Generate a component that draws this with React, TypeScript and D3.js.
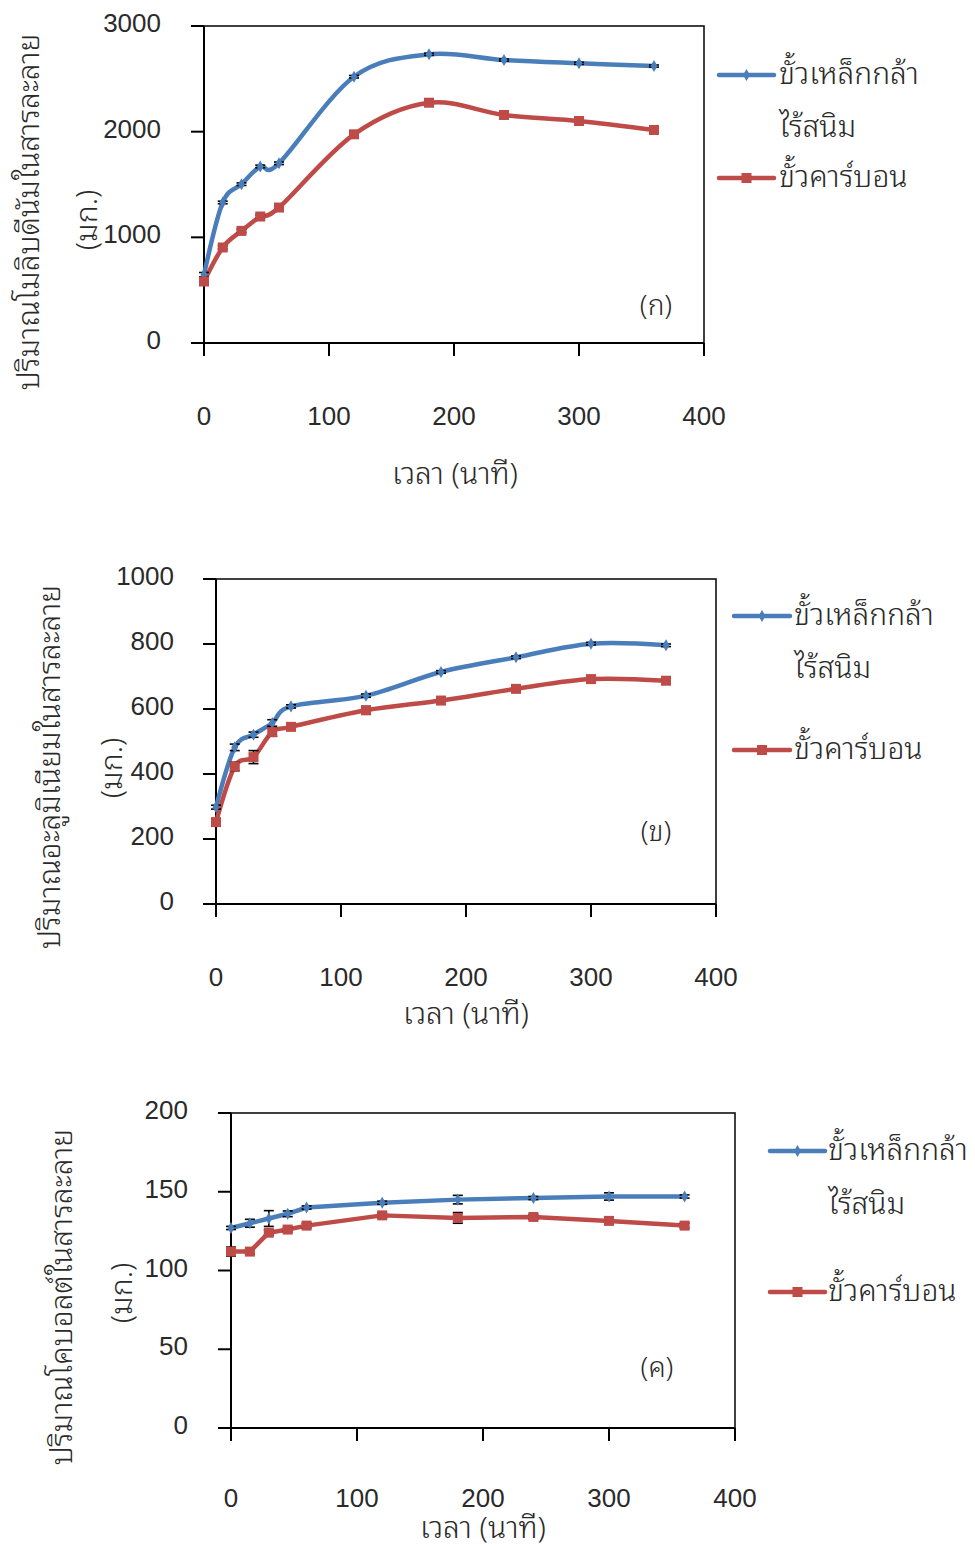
import React from "react";
import * as d3 from "d3";

// Sampling times (minutes)
const TIME_MIN = [0, 15, 30, 45, 60, 120, 180, 240, 300, 360];

// (ก) Molybdenum in solution (mg)
const MO_STEEL = [647, 1330, 1503, 1671, 1701, 2520, 2732, 2678, 2647, 2621];
const MO_STEEL_ERR = [20, 12, 12, 12, 12, 12, 10, 10, 10, 10];
const MO_CARBON = [582, 904, 1061, 1197, 1282, 1975, 2274, 2158, 2101, 2016];
const MO_CARBON_ERR = [25, 15, 15, 15, 15, 15, 12, 10, 10, 10];

// (ข) Aluminium in solution (mg)
const AL_STEEL = [298, 482, 521, 557, 608, 641, 714, 759, 801, 796];
const AL_STEEL_ERR = [6, 10, 8, 10, 5, 5, 4, 4, 4, 4];
const AL_CARBON = [252, 423, 452, 529, 545, 596, 626, 662, 692, 687];
const AL_CARBON_ERR = [8, 13, 20, 13, 8, 12, 8, 8, 6, 6];

// (ค) Cobalt in solution (mg)
const CO_STEEL = [127, 130, 133, 136, 140, 143, 145, 146, 147, 147];
const CO_STEEL_ERR = [1, 2.5, 5, 1.8, 1, 1, 2.7, 1, 2.3, 1];
const CO_CARBON = [112, 112, 124, 126, 128.5, 135, 133.4, 134, 131.5, 128.5];
const CO_CARBON_ERR = [2.9, 1.5, 1.5, 1.5, 1.5, 1.5, 3.4, 1.5, 1.5, 1.5];

const X_TICKS = [0, 100, 200, 300, 400];
const SERIES_NAMES = ["ขั้วเหล็กกล้า", "ไร้สนิม", "ขั้วคาร์บอน"];
const X_TITLE = "เวลา (นาที)";
const UNIT = "(มก.)";

const BLUE = "#4A7EBB";
const RED = "#BE4B48";
const INK = "#2a2a2a";
const NUM_FONT = "'Liberation Sans', Arial, sans-serif";
const THAI_FONT = "'Noto Sans Thai Looped', 'Noto Sans Thai', 'DejaVu Sans', 'Noto Sans', sans-serif";
const THAI_SIZE = 30;
const THAI_WEIGHT = 300;
// The Thai face sits its body below the em-box centre; nudge it back.
const THAI_SHIFT = 5;

type PanelSpec = {
  tag: string;
  yTitle: string;
  steel: number[];
  steelErr: number[];
  carbon: number[];
  carbonErr: number[];
  yMax: number;
  yTicks: number[];
  smooth: boolean;
  box: { x0: number; x1: number; yTop: number; yBot: number };
  yLabelRight: number;
  xLabelY: number;
  xTitle: { x: number; y: number };
  yTitlePos: { x1: number; x2: number; y1: number; y2: number };
  tagPos: { x: number; y: number };
  legend: { lx0: number; lx1: number; tx: number; yBlue: number; y2: number; yRed: number };
};

const PANELS: PanelSpec[] = [
  {
    tag: "(ก)",
    yTitle: "ปริมาณโมลิบดีนัมในสารละลาย",
    steel: MO_STEEL,
    steelErr: MO_STEEL_ERR,
    carbon: MO_CARBON,
    carbonErr: MO_CARBON_ERR,
    yMax: 3000,
    yTicks: [0, 1000, 2000, 3000],
    smooth: true,
    box: { x0: 204, x1: 704, yTop: 26, yBot: 343 },
    yLabelRight: 161,
    xLabelY: 416,
    xTitle: { x: 455, y: 475 },
    yTitlePos: { x1: 29, x2: 87, y1: 212, y2: 220 },
    tagPos: { x: 656, y: 307 },
    legend: { lx0: 719, lx1: 774, tx: 779, yBlue: 75, y2: 128, yRed: 178 },
  },
  {
    tag: "(ข)",
    yTitle: "ปริมาณอะลูมิเนียมในสารละลาย",
    steel: AL_STEEL,
    steelErr: AL_STEEL_ERR,
    carbon: AL_CARBON,
    carbonErr: AL_CARBON_ERR,
    yMax: 1000,
    yTicks: [0, 200, 400, 600, 800, 1000],
    smooth: true,
    box: { x0: 216, x1: 716, yTop: 579, yBot: 904 },
    yLabelRight: 174,
    xLabelY: 977,
    xTitle: { x: 466, y: 1015 },
    yTitlePos: { x1: 50, x2: 112, y1: 767, y2: 768 },
    tagPos: { x: 656, y: 833 },
    legend: { lx0: 734, lx1: 790, tx: 794, yBlue: 616, y2: 669, yRed: 750 },
  },
  {
    tag: "(ค)",
    yTitle: "ปริมาณโคบอลต์ในสารละลาย",
    steel: CO_STEEL,
    steelErr: CO_STEEL_ERR,
    carbon: CO_CARBON,
    carbonErr: CO_CARBON_ERR,
    yMax: 200,
    yTicks: [0, 50, 100, 150, 200],
    smooth: false,
    box: { x0: 231, x1: 735, yTop: 1113, yBot: 1428 },
    yLabelRight: 188,
    xLabelY: 1498,
    xTitle: { x: 483, y: 1529 },
    yTitlePos: { x1: 62, x2: 122, y1: 1297, y2: 1293 },
    tagPos: { x: 657, y: 1369 },
    legend: { lx0: 770, lx1: 825, tx: 828, yBlue: 1151, y2: 1205, yRed: 1292 },
  },
];

function ErrorBars({ xs, ys, errs, x, y }: { xs: number[]; ys: number[]; errs: number[]; x: any; y: any }) {
  return (
    <g stroke="#000" strokeWidth={1.6}>
      {xs.map((t, i) => {
        const cx = x(t);
        const yHi = y(ys[i] + errs[i]);
        const yLo = y(ys[i] - errs[i]);
        return (
          <g key={i}>
            <line x1={cx} x2={cx} y1={yHi} y2={yLo} />
            <line x1={cx - 5} x2={cx + 5} y1={yHi} y2={yHi} />
            <line x1={cx - 5} x2={cx + 5} y1={yLo} y2={yLo} />
          </g>
        );
      })}
    </g>
  );
}

function ThaiText({ x, y, children, anchor = "start", size = THAI_SIZE }: { x: number; y: number; children: any; anchor?: string; size?: number }) {
  return (
    <text x={x} y={y - THAI_SHIFT} textAnchor={anchor} dominantBaseline="central" fontFamily={THAI_FONT} fontWeight={THAI_WEIGHT} fontSize={size} fill={INK}>
      {children}
    </text>
  );
}

function VerticalThai({ x, y, children }: { x: number; y: number; children: any }) {
  return (
    <text transform={`translate(${x - THAI_SHIFT + 1},${y}) rotate(-90)`} textAnchor="middle" dominantBaseline="central" fontFamily={THAI_FONT} fontWeight={THAI_WEIGHT} fontSize={THAI_SIZE} fill={INK}>
      {children}
    </text>
  );
}

function Panel({ p }: { p: PanelSpec }) {
  const { box } = p;
  const x = d3.scaleLinear().domain([0, 400]).range([box.x0, box.x1]);
  const y = d3.scaleLinear().domain([0, p.yMax]).range([box.yBot, box.yTop]);
  const curve = p.smooth ? d3.curveCardinal.tension(0) : d3.curveLinear;
  const line = d3
    .line<number>()
    .x((_, i) => x(TIME_MIN[i]))
    .y((v) => y(v))
    .curve(curve);
  const tick = 13;
  const diamond = d3.symbol().type(d3.symbolDiamond).size(42)();
  const lg = p.legend;
  const lmid = (lg.lx0 + lg.lx1) / 2;

  return (
    <g>
      {/* plot frame */}
      <rect x={box.x0} y={box.yTop} width={box.x1 - box.x0} height={box.yBot - box.yTop} fill="none" stroke="#111" strokeWidth={1.6} />
      {/* y axis */}
      <line x1={box.x0} x2={box.x0} y1={box.yTop} y2={box.yBot + tick} stroke="#000" strokeWidth={2} />
      {p.yTicks.map((t) => (
        <g key={"y" + t}>
          <line x1={box.x0 - tick} x2={box.x0} y1={y(t)} y2={y(t)} stroke="#000" strokeWidth={2} />
          <text x={p.yLabelRight} y={y(t) - 3} textAnchor="end" dominantBaseline="central" fontFamily={NUM_FONT} fontSize={26} fill={INK}>
            {t}
          </text>
        </g>
      ))}
      {/* x axis */}
      <line x1={box.x0} x2={box.x1} y1={box.yBot} y2={box.yBot} stroke="#000" strokeWidth={2} />
      {X_TICKS.map((t) => (
        <g key={"x" + t}>
          <line x1={x(t)} x2={x(t)} y1={box.yBot} y2={box.yBot + tick} stroke="#000" strokeWidth={2} />
          <text x={x(t)} y={p.xLabelY} textAnchor="middle" dominantBaseline="central" fontFamily={NUM_FONT} fontSize={26} fill={INK}>
            {t}
          </text>
        </g>
      ))}
      <ThaiText x={p.xTitle.x} y={p.xTitle.y} anchor="middle">
        {X_TITLE}
      </ThaiText>
      {/* y title */}
      <VerticalThai x={p.yTitlePos.x1} y={p.yTitlePos.y1}>
        {p.yTitle}
      </VerticalThai>
      <VerticalThai x={p.yTitlePos.x2} y={p.yTitlePos.y2}>
        {UNIT}
      </VerticalThai>

      {/* series */}
      <path d={line(p.steel) || ""} fill="none" stroke={BLUE} strokeWidth={4.5} strokeLinejoin="round" strokeLinecap="round" />
      <path d={line(p.carbon) || ""} fill="none" stroke={RED} strokeWidth={4.5} strokeLinejoin="round" strokeLinecap="round" />
      <ErrorBars xs={TIME_MIN} ys={p.steel} errs={p.steelErr} x={x} y={y} />
      <ErrorBars xs={TIME_MIN} ys={p.carbon} errs={p.carbonErr} x={x} y={y} />
      {p.steel.map((v, i) => (
        <path key={"b" + i} d={diamond || ""} transform={`translate(${x(TIME_MIN[i])},${y(v)})`} fill={BLUE} />
      ))}
      {p.carbon.map((v, i) => (
        <rect key={"r" + i} x={x(TIME_MIN[i]) - 5} y={y(v) - 5} width={10} height={10} fill={RED} />
      ))}

      <ThaiText x={p.tagPos.x} y={p.tagPos.y} anchor="middle" size={28}>
        {p.tag}
      </ThaiText>

      {/* legend */}
      <line x1={lg.lx0} x2={lg.lx1} y1={lg.yBlue} y2={lg.yBlue} stroke={BLUE} strokeWidth={4.5} strokeLinecap="round" />
      <path d={diamond || ""} transform={`translate(${lmid},${lg.yBlue})`} fill={BLUE} />
      <line x1={lg.lx0} x2={lg.lx1} y1={lg.yRed} y2={lg.yRed} stroke={RED} strokeWidth={4.5} strokeLinecap="round" />
      <rect x={lmid - 5} y={lg.yRed - 5} width={10} height={10} fill={RED} />
      <ThaiText x={lg.tx} y={lg.yBlue}>{SERIES_NAMES[0]}</ThaiText>
      <ThaiText x={lg.tx} y={lg.y2}>{SERIES_NAMES[1]}</ThaiText>
      <ThaiText x={lg.tx} y={lg.yRed}>{SERIES_NAMES[2]}</ThaiText>
    </g>
  );
}

export default function App() {
  return (
    <svg width={975} height={1549} viewBox="0 0 975 1549" style={{ position: "absolute", left: 0, top: 0, background: "#fff" }}>
      <rect width={975} height={1549} fill="#fff" />
      {PANELS.map((p) => (
        <Panel key={p.tag} p={p} />
      ))}
    </svg>
  );
}
